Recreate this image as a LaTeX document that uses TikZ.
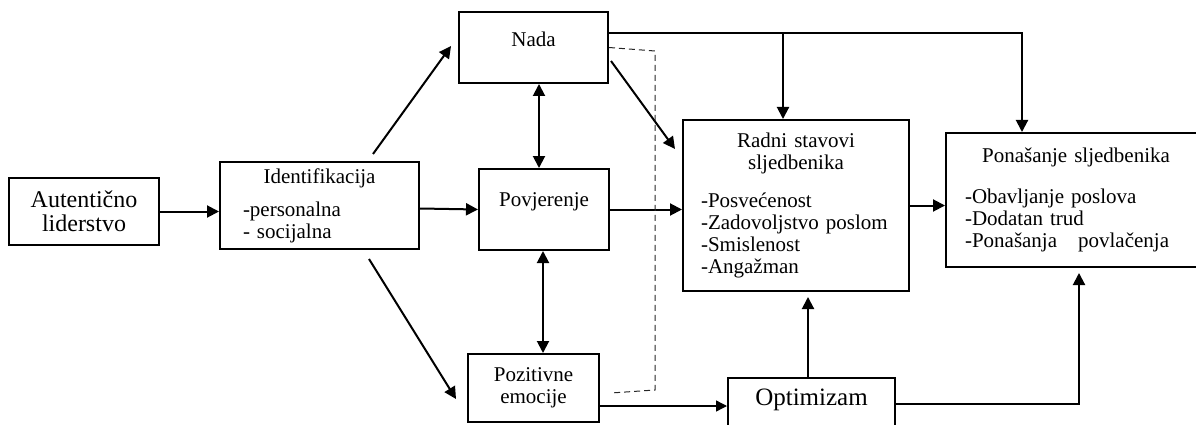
\documentclass[tikz,border=0pt]{standalone}
\usepackage{fontspec}
\setmainfont{Liberation Serif}
\usetikzlibrary{
    arrows.meta,
    calc
}

\begin{document}
\begin{tikzpicture}[
    x=1pt, y=-1pt,
    box/.style     = {rectangle, draw, line width=2pt, inner sep=0pt,
                      font=\fontsize{21}{22}\selectfont},
    arr/.style     = {-{Triangle[length=12pt, width=12pt]}, line width=2pt},
    dblarr/.style  = {{Triangle[length=12pt, width=12pt]}-{Triangle[length=12pt, width=12pt]},
                      line width=2pt},
    thinarr/.style = {-{Triangle[length=11pt, width=11pt]}, line width=1.3pt},
    guide/.style   = {draw=black!85, line width=1pt, dash pattern=on 6pt off 4pt},
]
    \useasboundingbox (0,0) rectangle (1196,425);

    %Nodes
    \node[box, minimum width=150pt, minimum height=67pt, align=center,
          font=\fontsize{24}{24}\selectfont]                      (auth)  at (84,211.5)
          {Autentično\\liderstvo};
    \node[box, minimum width=199pt, minimum height=87pt, inner xsep=23pt,
          text width=153pt]                                      (ident) at (319.5,205.5)
          {\parindent0pt\centering Identifikacija\par\vspace{13pt}
           \raggedright\baselineskip=18pt -personalna\\- socijalna};
    \node[box, minimum width=149pt, minimum height=71pt, text depth=17pt] (nada) at (533.5,47.5) {Nada};
    \node[box, minimum width=130pt, minimum height=81pt, text depth=20pt] (povj) at (544,209.5) {Povjerenje};
    \node[box, minimum width=131pt, minimum height=68pt, align=center] (pozit) at (533.5,388)
          {Pozitivne\\emocije};
    \node[box, minimum width=167pt, minimum height=70pt, anchor=north, text depth=32pt,
          font=\fontsize{25}{25}\selectfont]                     (optim) at (811.5,377) {Optimizam};
    \node[box, minimum width=226pt, minimum height=171pt, inner xsep=18pt,
          text width=190pt]                                      (radni) at (796,205.5)
          {\parindent0pt\centering Radni stavovi\\sljedbenika\par\vspace{16pt}
           \raggedright -Posvećenost\\-Zadovoljstvo poslom\\-Smislenost\\-Angažman};
    \node[box, minimum width=260pt, minimum height=134pt, inner xsep=19pt,
          text width=222pt]                                      (ponas) at (1076,200)
          {\parindent0pt\centering Ponašanje sljedbenika\par\vspace{19pt}
           \raggedright -Obavljanje poslova\\-Dodatan trud\\-Ponašanja\ \ \ povlačenja};

    %Helper points
    \coordinate (up)    at (539,0);
    \coordinate (down)  at (543,0);
    \coordinate (split) at (783,33);
    \coordinate (turn)  at (1022,33);
    \coordinate (bend)  at (1079,404);
    \coordinate (rise)  at (808,0);
    \coordinate (pz)    at ($(pozit.east)+(0,18)$);

    %Lines
    \draw[arr] (auth.east) -- (auth.east -| ident.west);
    \draw[arr] ($(ident.north)+(53.5,-7)$) -- ($(nada.west)+(-7,-1.5)$);
    \draw[arr] ($(ident.south)+(49.5,9)$) -- ($(pozit.west)+(-11,11)$);
    \draw[arr] ([yshift=-3pt]ident.east) -- (povj.west);
    \draw[dblarr] (nada.south -| up) -- (povj.north -| up);
    \draw[dblarr] (povj.south -| down) -- (pozit.north -| down);
    \draw[arr] ($(nada.east)+(2,13.5)$) -- ($(radni.north west)+(-7,30)$);
    \draw[arr] (povj.east) -- (povj.east -| radni.west);
    \draw[guide] (nada.east) -- (655,51) -- (655,390) -- ($(pozit.east)+(11,5)$);
    \draw[arr] (nada.east |- turn) -- (turn) -- (turn |- ponas.north);
    \draw[arr] (split) -- (split |- radni.north);
    \draw[arr] (radni.east) -- (radni.east -| ponas.west);
    \draw[thinarr] (pz) -- (pz -| optim.west);
    \draw[arr, shorten >=5pt] (optim.north -| rise) -- (radni.south -| rise);
    \draw[arr, shorten >=5pt] (optim.east |- bend) -- (bend) -- (bend |- ponas.south);
\end{tikzpicture}
\end{document}
